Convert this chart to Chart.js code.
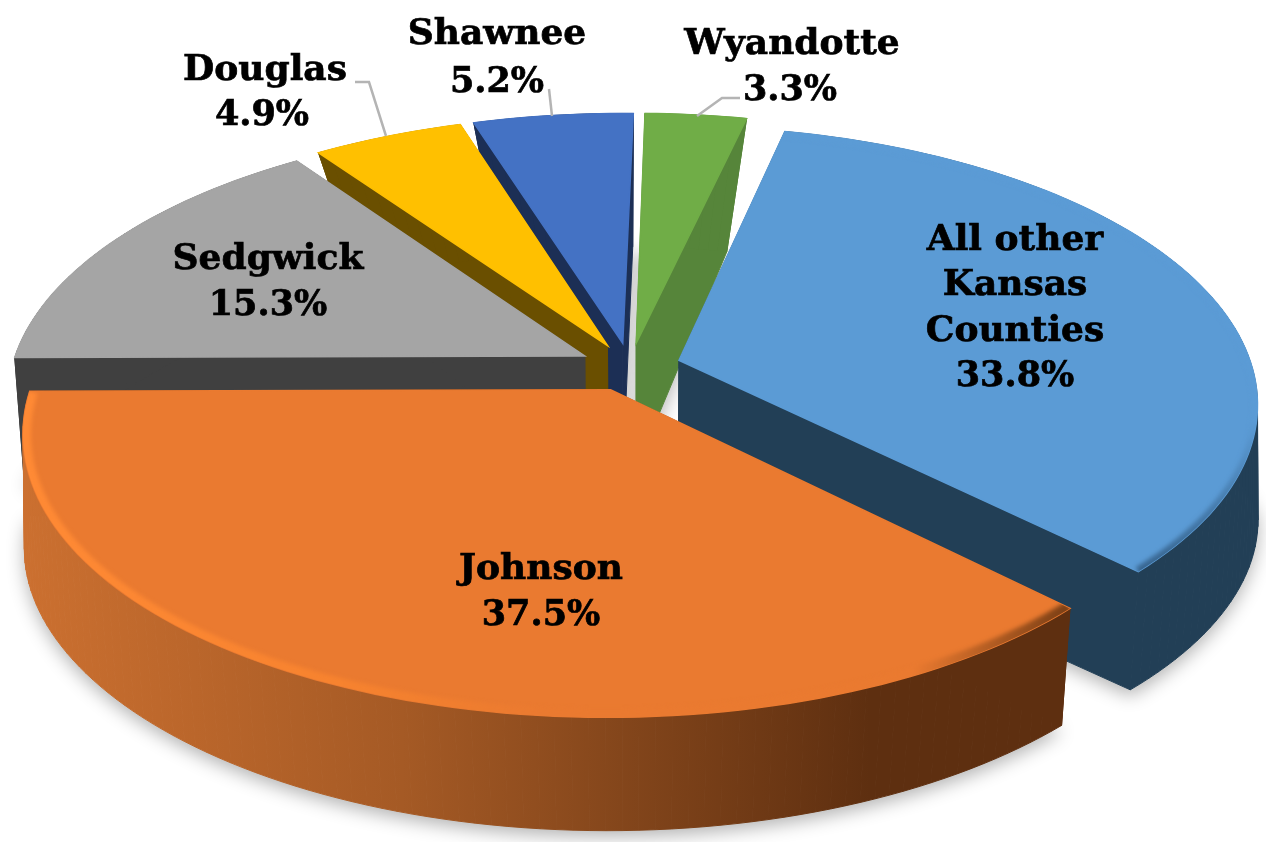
<!DOCTYPE html>
<html>
<head>
<meta charset="utf-8">
<script src="https://cdn.jsdelivr.net/npm/chart.js@4"></script>
<style>
  html, body { margin: 0; padding: 0; background: #fff; }
  #wrap { width: 1266px; height: 842px; }
</style>
</head>
<body>
<div id="wrap"><canvas id="myChart" width="1266" height="842"></canvas></div>
<script>
const categories = ['All other Kansas Counties', 'Johnson', 'Sedgwick', 'Douglas', 'Shawnee', 'Wyandotte'];
const shares = [33.8, 37.5, 15.3, 4.9, 5.2, 3.3];
const topColors = ['#5b9bd5', '#ea7a30', '#a5a5a5', '#ffc000', '#4472c4', '#70ad47'];
const wallColors = ['#223f56', '#5e2f10', '#404040', '#6a4f00', '#1c2f55', '#56853a'];

// perspective of the tilted disc, the lower face sits further down
const view = { cx: 630, cy: 367, rx: 573, ry: 271, k: 0.15, drop: 125, lowRy: 262 };
const paintOrder = [5, 4, 3, 2, 0, 1];

// label text centres, one entry per text line
const labelSpots = [
  [[1015, 241, 'All other'], [1015, 286, 'Kansas'], [1015, 332, 'Counties'], [1015, 377]],
  [[541, 570, 'Johnson'], [541, 616]],
  [[268, 260, 'Sedgwick'], [268, 306]],
  [[265, 71, 'Douglas'], [262, 116]],
  [[497, 35, 'Shawnee'], [497, 83]],
  [[792, 45, 'Wyandotte'], [790, 91]]
];
const leaders = [
  [[355, 82], [369, 82], [386, 136]],
  [[549, 89], [552, 116]],
  [[740, 98], [722, 98], [697, 116]]
];

// how much narrower the lower face is, depends on how far forward the point is
function lowScale(v) {
  return v > 0.083 ? 1.002 - 0.03 * (v - 0.083) : 1.002 + 0.15 * (v - 0.083);
}

function project(u, v, low) {
  const w = 1 - view.k * v;
  const x = view.cx + view.rx * u / w;
  if (low) {
    return [view.cx + (x - view.cx) * lowScale(v), view.cy + view.drop + view.lowRy * v / w];
  }
  return [x, view.cy + view.ry * v / w];
}

function tracePath(ctx, pts) {
  ctx.beginPath();
  pts.forEach((p, i) => i ? ctx.lineTo(p[0], p[1]) : ctx.moveTo(p[0], p[1]));
  ctx.closePath();
}

// outer edge of one slice as points on the unit disc
function rimOf(arc) {
  const p = arc.getProps(['startAngle', 'endAngle', 'outerRadius']);
  const mid = (p.startAngle + p.endAngle) / 2;
  const off = arc.options.offset / p.outerRadius;
  const ox = Math.cos(mid) * off, oy = Math.sin(mid) * off;
  const rim = [];
  const steps = Math.ceil((p.endAngle - p.startAngle) * 40);
  for (let i = 0; i <= steps; i++) {
    const a = p.startAngle + (p.endAngle - p.startAngle) * i / steps;
    rim.push([ox + Math.cos(a), oy + Math.sin(a)]);
  }
  return { rim, apex: [ox, oy] };
}

const tiltedPie = {
  id: 'tiltedPie',
  beforeDatasetsDraw(chart) {
    const ctx = chart.ctx;
    const arcs = chart.getDatasetMeta(0).data;

    // soft shadow first so it never falls on another slice
    paintOrder.forEach(i => {
      const { rim, apex } = rimOf(arcs[i]);
      ctx.save();
      ctx.shadowColor = 'rgba(0,0,0,0.3)';
      ctx.shadowBlur = 18;
      ctx.shadowOffsetY = 6;
      ctx.fillStyle = '#fff';
      tracePath(ctx, [project(apex[0], apex[1], true)].concat(rim.map(q => project(q[0], q[1], true))));
      ctx.fill();
      ctx.restore();
    });

    paintOrder.forEach(i => {
      const arc = arcs[i];
      const { rim, apex } = rimOf(arc);
      const top = rim.map(q => project(q[0], q[1], false));
      const low = rim.map(q => project(q[0], q[1], true));
      const apexTop = project(apex[0], apex[1], false);
      const apexLow = project(apex[0], apex[1], true);
      const last = rim.length - 1;

      // radial walls
      ctx.fillStyle = wallColors[i];
      ctx.strokeStyle = wallColors[i];
      ctx.lineWidth = 1;
      tracePath(ctx, [apexTop, top[0], low[0], apexLow]);
      ctx.fill();
      ctx.stroke();
      tracePath(ctx, [apexTop, top[last], low[last], apexLow]);
      ctx.fill();
      ctx.stroke();

      // outer wall, strip by strip because the top and lower curves cross
      let wall = wallColors[i];
      if (i === 1) {
        wall = ctx.createLinearGradient(20, 0, 870, 0);
        wall.addColorStop(0, '#cc7030');
        wall.addColorStop(0.45, '#a55a25');
        wall.addColorStop(1, '#5e2f10');
      }
      ctx.fillStyle = wall;
      ctx.strokeStyle = wall;
      for (let n = 0; n < last; n++) {
        tracePath(ctx, [top[n], top[n + 1], low[n + 1], low[n]]);
        ctx.fill();
        ctx.stroke();
      }

      // top face, stroked too so the wall strokes do not outline it
      ctx.fillStyle = arc.options.backgroundColor;
      ctx.strokeStyle = arc.options.backgroundColor;
      ctx.lineWidth = 1.5;
      tracePath(ctx, [apexTop].concat(top));
      ctx.fill();
      ctx.stroke();

      // bevel along the rim
      if (i < 2) {
        ctx.save();
        tracePath(ctx, [apexTop].concat(top));
        ctx.clip();
        ctx.filter = 'blur(2px)';
        ctx.lineWidth = i === 1 ? 16 : 10;
        let bevel;
        if (i === 1) {
          bevel = ctx.createLinearGradient(20, 0, 1070, 0);
          bevel.addColorStop(0, '#ff8a35');
          bevel.addColorStop(0.3, '#f7832f');
          bevel.addColorStop(0.5, '#ea7a30');
          bevel.addColorStop(0.85, '#ea7a30');
          bevel.addColorStop(1, '#7a3f15');
        } else {
          bevel = ctx.createLinearGradient(0, 420, 0, 580);
          bevel.addColorStop(0, '#5b9bd5');
          bevel.addColorStop(1, '#35618a');
        }
        ctx.strokeStyle = bevel;
        ctx.beginPath();
        top.forEach((p, n) => n ? ctx.lineTo(p[0], p[1]) : ctx.moveTo(p[0], p[1]));
        ctx.stroke();
        ctx.restore();
      }
    });
    return false;
  },
  afterDraw(chart) {
    const ctx = chart.ctx;
    ctx.save();
    ctx.strokeStyle = '#b4b4b4';
    ctx.lineWidth = 2.5;
    leaders.forEach(line => {
      ctx.beginPath();
      line.forEach((p, n) => n ? ctx.lineTo(p[0], p[1]) : ctx.moveTo(p[0], p[1]));
      ctx.stroke();
    });
    ctx.fillStyle = '#000';
    ctx.strokeStyle = '#000';
    ctx.lineWidth = 0.7;
    ctx.textAlign = 'center';
    ctx.textBaseline = 'middle';
    labelSpots.forEach((lines, i) => {
      lines.forEach(s => {
        ctx.font = s[2] ? 'bold 36px "DejaVu Serif"' : 'bold 35px "DejaVu Serif"';
        const text = s[2] || shares[i].toFixed(1) + '%';
        ctx.fillText(text, s[0], s[1]);
        ctx.strokeText(text, s[0], s[1]);
      });
    });
    ctx.restore();
  }
};

new Chart(document.getElementById('myChart'), {
  type: 'pie',
  data: {
    labels: categories,
    datasets: [{
      label: 'Share',
      data: shares,
      backgroundColor: topColors,
      borderWidth: 0,
      offset: 36
    }]
  },
  options: {
    responsive: false,
    animation: false,
    rotation: 13,
    layout: { padding: 0 },
    plugins: { legend: { display: false }, tooltip: { enabled: false } }
  },
  plugins: [tiltedPie]
});
</script>
</body>
</html>
